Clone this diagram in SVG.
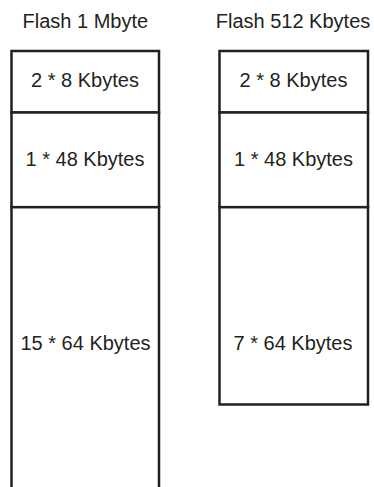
<svg xmlns="http://www.w3.org/2000/svg" width="374" height="487" viewBox="0 0 374 487">
<style>
.box{fill:#ffffff;stroke:#231f20;stroke-width:2.5}
.t{font-family:"Liberation Sans",Arial,sans-serif;font-size:20px;fill:#231f20;text-anchor:middle}
</style>
<rect width="374" height="487" fill="#ffffff"/>
<g id="title-1mb"><text class="t" x="85.3" y="28">Flash 1 Mbyte</text></g>
<g id="title-512kb"><text class="t" x="293" y="28">Flash 512 Kbytes</text></g>
<g id="col1-s0"><rect class="box" x="11.5" y="51" width="147.5" height="61.5"/><text class="t" x="85" y="87">2 * 8 Kbytes</text></g>
<g id="col1-s1"><rect class="box" x="11.5" y="112.5" width="147.5" height="94.7"/><text class="t" x="85" y="166">1 * 48 Kbytes</text></g>
<g id="col1-s2"><rect class="box" x="11.5" y="207.2" width="147.5" height="300"/><text class="t" x="85.5" y="350">15 * 64 Kbytes</text></g>
<g id="col2-s0"><rect class="box" x="219.5" y="51" width="148.5" height="61.5"/><text class="t" x="293.5" y="87">2 * 8 Kbytes</text></g>
<g id="col2-s1"><rect class="box" x="219.5" y="112.5" width="148.5" height="94.7"/><text class="t" x="293.5" y="166">1 * 48 Kbytes</text></g>
<g id="col2-s2"><rect class="box" x="219.5" y="207.2" width="148.5" height="197.3"/><text class="t" x="293" y="350">7 * 64 Kbytes</text></g>
<g id="connectors"/>
</svg>
